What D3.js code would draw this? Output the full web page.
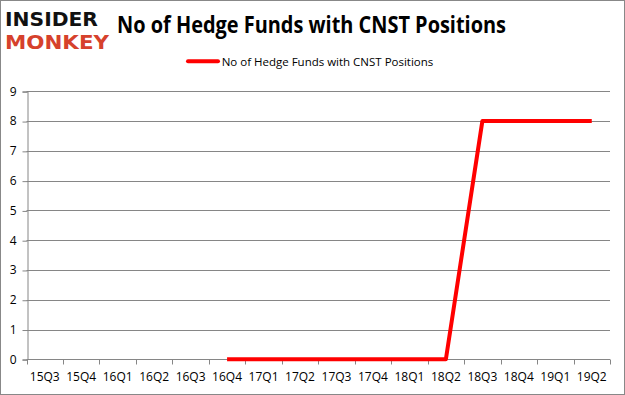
<!DOCTYPE html>
<html>
<head>
<meta charset="utf-8">
<script src="https://cdn.jsdelivr.net/npm/d3@7"></script>
<style>
  html, body { margin: 0; padding: 0; background: #fff; }
  svg { display: block; }
</style>
</head>
<body>
<div id="chart"></div>
<script>
// 数据
const quarters = ['15Q3', '15Q4', '16Q1', '16Q2', '16Q3', '16Q4', '17Q1', '17Q2',
  '17Q3', '17Q4', '18Q1', '18Q2', '18Q3', '18Q4', '19Q1', '19Q2'];
const fundCounts = [null, null, null, null, null, 0, 0, 0, 0, 0, 0, 0, 8, 8, 8, 8];
const yTicks = [0, 1, 2, 3, 4, 5, 6, 7, 8, 9];
const seriesName = 'No of Hedge Funds with CNST Positions';
const titleText = 'No of Hedge Funds with CNST Positions';

const width = 625, height = 395;
const margin = { top: 91.3, right: 15, bottom: 35.7, left: 26.5 };

const svg = d3.select('#chart')
  .append('svg')
  .attr('width', width)
  .attr('height', height);

// 外框
svg.append('rect')
  .attr('x', 0.5).attr('y', 0.5)
  .attr('width', width - 1).attr('height', height - 1)
  .attr('fill', '#fff')
  .attr('stroke', '#888');

// logo
svg.append('text')
  .attr('x', 5).attr('y', 25.5)
  .attr('textLength', 93).attr('lengthAdjust', 'spacingAndGlyphs')
  .attr('font-family', 'DejaVu Sans')
  .attr('font-weight', 'bold')
  .attr('font-size', 19.5)
  .attr('fill', '#111')
  .text('INSIDER');
svg.append('text')
  .attr('x', 5).attr('y', 48.5)
  .attr('textLength', 104).attr('lengthAdjust', 'spacingAndGlyphs')
  .attr('font-family', 'DejaVu Sans')
  .attr('font-weight', 'bold')
  .attr('font-size', 19.5)
  .attr('fill', '#d6412c')
  .text('MONKEY');

// 标题
svg.append('text')
  .attr('x', 117).attr('y', 33)
  .attr('textLength', 389).attr('lengthAdjust', 'spacingAndGlyphs')
  .attr('font-family', 'Open Sans, sans-serif')
  .attr('font-weight', 'bold')
  .attr('font-size', 23)
  .attr('fill', '#000')
  .text(titleText);

// 比例尺
const xScale = d3.scaleBand()
  .domain(quarters)
  .range([margin.left, width - margin.right]);

const yScale = d3.scaleLinear()
  .domain([0, 9])
  .range([height - margin.bottom, margin.top]);

const plotLeft = margin.left, plotRight = width - margin.right;

// 网格线
svg.append('g')
  .selectAll('line')
  .data(yTicks.filter(d => d > 0))
  .enter()
  .append('line')
  .attr('x1', plotLeft).attr('x2', plotRight)
  .attr('y1', d => Math.round(yScale(d)) + 0.5)
  .attr('y2', d => Math.round(yScale(d)) + 0.5)
  .attr('stroke', '#868686')
  .attr('stroke-width', 1);

// y 轴
const yAxis = svg.append('g')
  .attr('transform', `translate(${Math.round(plotLeft) + 0.5},0)`)
  .call(d3.axisLeft(yScale).tickValues(yTicks).tickSize(5).tickPadding(6));
yAxis.select('.domain').attr('stroke', '#868686');
yAxis.selectAll('.tick line').attr('stroke', '#868686')
  .attr('transform', 'translate(0,0.5)');
yAxis.selectAll('.tick text')
  .attr('font-family', 'Open Sans, sans-serif')
  .attr('font-size', 12)
  .attr('fill', '#000');

// x 轴
const xAxisY = Math.round(yScale(0)) + 0.5;
const xAxis = svg.append('g')
  .attr('transform', `translate(0,${xAxisY})`);
xAxis.append('line')
  .attr('x1', plotLeft).attr('x2', plotRight)
  .attr('stroke', '#868686');
xAxis.selectAll('line.tick')
  .data(quarters.concat(['end']))
  .enter()
  .append('line')
  .attr('class', 'tick')
  .attr('x1', (d, i) => Math.round(margin.left + i * xScale.bandwidth()) + 0.5)
  .attr('x2', (d, i) => Math.round(margin.left + i * xScale.bandwidth()) + 0.5)
  .attr('y1', 0).attr('y2', 5)
  .attr('stroke', '#868686');
xAxis.selectAll('text')
  .data(quarters)
  .enter()
  .append('text')
  .attr('x', d => xScale(d) + xScale.bandwidth() / 2)
  .attr('y', 21)
  .attr('text-anchor', 'middle')
  .attr('font-family', 'Open Sans, sans-serif')
  .attr('font-size', 12)
  .attr('fill', '#000')
  .text(d => d);

// 折线
const series = quarters.map((q, i) => ({ q, v: fundCounts[i] }));
const line = d3.line()
  .defined(d => d.v !== null)
  .x(d => xScale(d.q) + xScale.bandwidth() / 2)
  .y(d => yScale(d.v));

svg.append('path')
  .datum(series)
  .attr('d', line)
  .attr('fill', 'none')
  .attr('stroke', '#ff0000')
  .attr('stroke-width', 4)
  .attr('stroke-linejoin', 'round');

// 图例
svg.append('line')
  .attr('x1', 188).attr('x2', 218)
  .attr('y1', 61.3).attr('y2', 61.3)
  .attr('stroke', '#ff0000')
  .attr('stroke-width', 4)
  .attr('stroke-linecap', 'round');
svg.append('text')
  .attr('x', 221.7).attr('y', 65.5)
  .attr('textLength', 211.6).attr('lengthAdjust', 'spacingAndGlyphs')
  .attr('font-family', 'Open Sans, sans-serif')
  .attr('font-size', 11.5)
  .attr('fill', '#000')
  .text(seriesName);
</script>
</body>
</html>
